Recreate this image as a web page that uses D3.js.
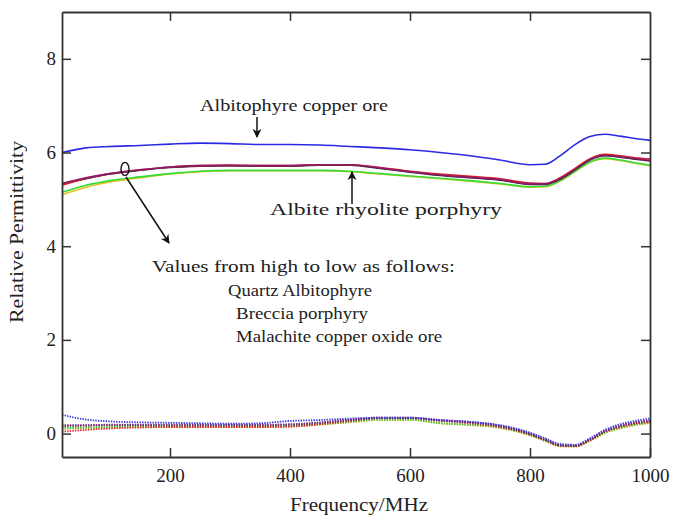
<!DOCTYPE html>
<html><head><meta charset="utf-8">
<script src="https://cdn.jsdelivr.net/npm/d3@7"></script>
<style>body{margin:0;background:#fff}svg{display:block}text{font-family:"Liberation Serif","Times New Roman",serif;fill:#222}</style>
</head><body><div id="chart"></div>
<script>
const freq = [20,60,100,150,200,250,300,350,400,450,500,550,600,650,700,750,800,825,850,875,900,925,950,975,1000];
// solid curves (real part)
const blueSolid   = [6.00,6.10,6.13,6.15,6.18,6.20,6.19,6.17,6.17,6.16,6.13,6.10,6.06,6.00,5.93,5.84,5.74,5.75,5.93,6.17,6.34,6.39,6.35,6.30,6.26];
const blackSolid  = [5.32,5.44,5.54,5.62,5.68,5.71,5.72,5.71,5.71,5.73,5.73,5.66,5.58,5.51,5.46,5.41,5.32,5.32,5.43,5.63,5.84,5.93,5.90,5.86,5.82];
const purpleSolid = [5.34,5.46,5.55,5.63,5.69,5.72,5.72,5.72,5.72,5.74,5.74,5.67,5.59,5.52,5.47,5.42,5.33,5.33,5.44,5.64,5.85,5.94,5.91,5.87,5.83];
const redSolid    = [5.30,5.45,5.55,5.63,5.69,5.72,5.73,5.72,5.72,5.74,5.74,5.68,5.60,5.54,5.49,5.44,5.35,5.34,5.46,5.66,5.87,5.96,5.93,5.89,5.86];
const greenSolid  = [5.15,5.30,5.40,5.48,5.55,5.60,5.62,5.62,5.62,5.62,5.60,5.55,5.50,5.45,5.40,5.34,5.27,5.28,5.40,5.60,5.80,5.88,5.84,5.78,5.73];
const orangeSolid = [5.10,5.26,5.37,5.46,5.54,5.59,5.61,5.61,5.61,5.61,5.59,5.54,5.49,5.44,5.39,5.33,5.26,5.27,5.39,5.59,5.79,5.87,5.83,5.77,5.72];
// dotted curves (loss)
const blueDot   = [0.40,0.30,0.26,0.24,0.23,0.22,0.21,0.22,0.27,0.29,0.32,0.34,0.34,0.29,0.25,0.18,0.02,-0.10,-0.22,-0.24,-0.10,0.08,0.20,0.27,0.32];
const purpleDot = [0.18,0.18,0.19,0.19,0.19,0.19,0.19,0.19,0.20,0.24,0.30,0.34,0.34,0.29,0.25,0.17,0.00,-0.12,-0.24,-0.25,-0.12,0.06,0.17,0.24,0.28];
const blackDot  = [0.16,0.17,0.18,0.18,0.18,0.18,0.18,0.18,0.19,0.23,0.29,0.33,0.33,0.28,0.24,0.16,-0.01,-0.13,-0.25,-0.26,-0.13,0.05,0.16,0.23,0.27];
const redDot    = [0.04,0.08,0.11,0.13,0.14,0.14,0.14,0.14,0.15,0.20,0.27,0.33,0.33,0.27,0.22,0.14,-0.02,-0.14,-0.26,-0.27,-0.14,0.04,0.14,0.21,0.25];
const greenDot  = [0.12,0.13,0.14,0.15,0.15,0.15,0.15,0.15,0.16,0.20,0.25,0.30,0.30,0.22,0.19,0.13,-0.03,-0.15,-0.26,-0.27,-0.15,0.02,0.12,0.19,0.23];
const orangeDot = [0.10,0.12,0.13,0.14,0.14,0.14,0.14,0.14,0.15,0.19,0.24,0.29,0.29,0.22,0.18,0.12,-0.04,-0.16,-0.27,-0.28,-0.16,0.01,0.11,0.18,0.22];
const xTicks = [200,400,600,800,1000];
const yTicks = [0,2,4,6,8];

const W=674,H=516, M={l:62,r:24,t:12,b:59};
const svg=d3.select("#chart").append("svg").attr("width",W).attr("height",H);
const x=d3.scaleLinear().domain([20,1000]).range([M.l,W-M.r]);
const y=d3.scaleLinear().domain([-0.5,9]).range([H-M.b,M.t]);

const series=[
 {v:orangeDot,c:"#e0a020",d:true},{v:greenDot,c:"#33cc33",d:true},{v:redDot,c:"#e0202a",d:true},
 {v:blackDot,c:"#333333",d:true},{v:purpleDot,c:"#8a2a8a",d:true},{v:blueDot,c:"#3a3ae0",d:true},
 {v:orangeSolid,c:"#e8c020",d:false},{v:greenSolid,c:"#33dd33",d:false},{v:blackSolid,c:"#2a2a2a",d:false},
 {v:redSolid,c:"#e0202a",d:false},{v:purpleSolid,c:"#8a1a6a",d:false},{v:blueSolid,c:"#2a2ae6",d:false}
];
const line=d3.line().x((d,i)=>x(freq[i])).y(d=>y(d)).curve(d3.curveMonotoneX);
svg.append("g").selectAll("path").data(series).join("path")
 .attr("d",s=>line(s.v)).attr("fill","none").attr("stroke",s=>s.c)
 .attr("stroke-width",s=>s.d?1.8:1.6).attr("stroke-dasharray",s=>s.d?"1.4,1.2":null);

const ax=g=>g.selectAll("path").attr("stroke","#333").attr("stroke-width",1.8);
const fs="19px";
svg.append("g").attr("transform",`translate(0,${H-M.b})`)
 .call(d3.axisBottom(x).tickValues(xTicks).tickFormat(d3.format("d")).tickSize(-9).tickPadding(12).tickSizeOuter(0))
 .call(ax).call(g=>g.selectAll("line").attr("stroke","#333").attr("stroke-width",1.5))
 .call(g=>g.selectAll("text").attr("font-size",fs).attr("fill","#222"));
svg.append("g").attr("transform",`translate(0,${M.t})`)
 .call(d3.axisTop(x).tickValues(xTicks.slice(0,4)).tickSize(-9).tickFormat("").tickSizeOuter(0))
 .call(ax).call(g=>g.selectAll("line").attr("stroke","#333").attr("stroke-width",1.5));
svg.append("g").attr("transform",`translate(${M.l},0)`)
 .call(d3.axisLeft(y).tickValues(yTicks).tickSize(-9).tickPadding(6).tickSizeOuter(0))
 .call(ax).call(g=>g.selectAll("line").attr("stroke","#333").attr("stroke-width",1.5))
 .call(g=>g.selectAll("text").attr("font-size",fs).attr("fill","#222"));
svg.append("g").attr("transform",`translate(${W-M.r},0)`)
 .call(d3.axisRight(y).tickValues(yTicks).tickSize(-9).tickFormat("").tickSizeOuter(0))
 .call(ax).call(g=>g.selectAll("line").attr("stroke","#333").attr("stroke-width",1.5));

svg.append("text").attr("x",359).attr("y",511).attr("text-anchor","middle")
 .attr("font-size","18px").attr("textLength",138).attr("lengthAdjust","spacingAndGlyphs").text("Frequency/MHz");
svg.append("text").attr("transform",`translate(23,232) rotate(-90)`).attr("text-anchor","middle")
 .attr("font-size","18px").attr("textLength",182).attr("lengthAdjust","spacingAndGlyphs").text("Relative Permittivity");

const ann=[
 {t:"Albitophyre copper ore",x:200,y:111,w:188},
 {t:"Albite rhyolite porphyry",x:270,y:215,w:232},
 {t:"Values from high to low as follows:",x:152,y:272,w:303},
 {t:"Quartz Albitophyre",x:228,y:296,w:144},
 {t:"Breccia porphyry",x:236,y:319,w:132},
 {t:"Malachite copper oxide ore",x:236,y:342,w:206}
];
svg.append("g").selectAll("text").data(ann).join("text")
 .attr("x",d=>d.x).attr("y",d=>d.y).attr("font-size","17px")
 .attr("textLength",d=>d.w).attr("lengthAdjust","spacingAndGlyphs").text(d=>d.t);

const defs=svg.append("defs");
defs.append("marker").attr("id","ah").attr("viewBox","0 0 10 10").attr("refX",9).attr("refY",5)
 .attr("markerWidth",6).attr("markerHeight",7).attr("orient","auto-start-reverse")
 .append("path").attr("d","M0,0 L10,5 L0,10 L3,5 Z").attr("fill","#111");
const arrows=[[257,117,257,137],[352,204,352,172],[126,177,169,243]];
svg.append("g").selectAll("line").data(arrows).join("line")
 .attr("x1",d=>d[0]).attr("y1",d=>d[1]).attr("x2",d=>d[2]).attr("y2",d=>d[3])
 .attr("stroke","#111").attr("stroke-width",1.5).attr("marker-end","url(#ah)");
svg.append("ellipse").attr("cx",x(125)).attr("cy",y(5.65)).attr("rx",4).attr("ry",6.5)
 .attr("fill","none").attr("stroke","#111").attr("stroke-width",1.4);
</script></body></html>
